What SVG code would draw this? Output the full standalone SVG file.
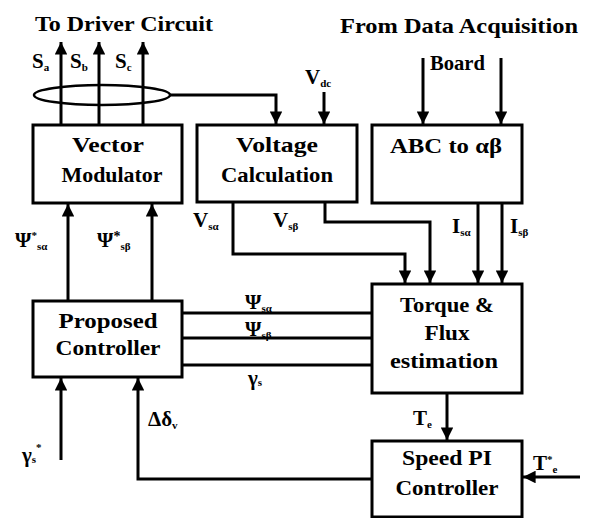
<svg xmlns="http://www.w3.org/2000/svg" width="590" height="518" viewBox="0 0 590 518">
<style>
.box{fill:#fff;stroke:#000;stroke-width:3}
.ln{fill:none;stroke:#000;stroke-width:3}
.t{font-family:'Liberation Serif','Times New Roman',serif;font-weight:bold;font-size:21px;fill:#000}
.lb{font-family:'Liberation Serif','Times New Roman',serif;font-weight:bold;font-size:21px;fill:#000}
.sub{font-size:11px}
</style>
<defs>
<marker id="ah" viewBox="0 0 10 10" refX="10" refY="5" markerWidth="4.2" markerHeight="4.2" orient="auto" markerUnits="strokeWidth">
<path d="M0,0 L10,5 L0,10 z" fill="#000"/>
</marker>
</defs>
<rect width="590" height="518" fill="#fff"/>

<g id="connectors">
<line class="ln" x1="61" y1="125" x2="61" y2="42" marker-end="url(#ah)"/>
<line class="ln" x1="99" y1="125" x2="99" y2="42" marker-end="url(#ah)"/>
<line class="ln" x1="143" y1="125" x2="143" y2="42" marker-end="url(#ah)"/>
<ellipse cx="102" cy="95" rx="68" ry="10" fill="none" stroke="#000" stroke-width="2.5"/>
<polyline class="ln" points="170,95 276,95 276,124" marker-end="url(#ah)"/>
<line class="ln" x1="324" y1="92" x2="324" y2="124" marker-end="url(#ah)"/>
<line class="ln" x1="423" y1="58" x2="423" y2="124" marker-end="url(#ah)"/>
<line class="ln" x1="501" y1="58" x2="501" y2="124" marker-end="url(#ah)"/>
<line class="ln" x1="68" y1="301" x2="68" y2="204" marker-end="url(#ah)"/>
<line class="ln" x1="152" y1="301" x2="152" y2="204" marker-end="url(#ah)"/>
<polyline class="ln" points="233,202 233,254 405,254 405,283" marker-end="url(#ah)"/>
<polyline class="ln" points="325,202 325,222 430,222 430,283" marker-end="url(#ah)"/>
<line class="ln" x1="478" y1="203" x2="478" y2="283" marker-end="url(#ah)"/>
<line class="ln" x1="502" y1="203" x2="502" y2="283" marker-end="url(#ah)"/>
<line class="ln" x1="182" y1="313" x2="372" y2="313"/>
<line class="ln" x1="182" y1="338" x2="372" y2="338"/>
<line class="ln" x1="182" y1="365" x2="372" y2="365"/>
<line class="ln" x1="447" y1="393" x2="447" y2="440" marker-end="url(#ah)"/>
<line class="ln" x1="580" y1="477" x2="523" y2="477" marker-end="url(#ah)"/>
<polyline class="ln" points="372,479 138,479 138,378" marker-end="url(#ah)"/>
<line class="ln" x1="61" y1="460" x2="61" y2="378" marker-end="url(#ah)"/>
</g>

<g id="vector-modulator">
<rect class="box" x="33" y="125" width="149" height="78"/>
<text class="t" x="108" y="152" text-anchor="middle" textLength="72" lengthAdjust="spacingAndGlyphs">Vector</text>
<text class="t" x="112" y="182" text-anchor="middle" textLength="101" lengthAdjust="spacingAndGlyphs">Modulator</text>
</g>
<g id="voltage-calculation">
<rect class="box" x="197" y="125" width="160" height="77"/>
<text class="t" x="277" y="152" text-anchor="middle" textLength="82" lengthAdjust="spacingAndGlyphs">Voltage</text>
<text class="t" x="277" y="182" text-anchor="middle" textLength="112" lengthAdjust="spacingAndGlyphs">Calculation</text>
</g>
<g id="abc-to-ab">
<rect class="box" x="372" y="125" width="150" height="78"/>
<text class="t" x="446" y="153" text-anchor="middle" textLength="112" lengthAdjust="spacingAndGlyphs">ABC to αβ</text>
</g>
<g id="torque-flux">
<rect class="box" x="372" y="284" width="150" height="109"/>
<text class="t" x="447" y="312" text-anchor="middle" textLength="94" lengthAdjust="spacingAndGlyphs">Torque &amp;</text>
<text class="t" x="447" y="340" text-anchor="middle" textLength="45" lengthAdjust="spacingAndGlyphs">Flux</text>
<text class="t" x="444" y="368" text-anchor="middle" textLength="108" lengthAdjust="spacingAndGlyphs">estimation</text>
</g>
<g id="speed-pi">
<rect class="box" x="372" y="441" width="150" height="76"/>
<text class="t" x="447" y="465" text-anchor="middle" textLength="90" lengthAdjust="spacingAndGlyphs">Speed PI</text>
<text class="t" x="447" y="495" text-anchor="middle" textLength="103" lengthAdjust="spacingAndGlyphs">Controller</text>
</g>
<g id="proposed-controller">
<rect class="box" x="33" y="301" width="149" height="76"/>
<text class="t" x="108" y="328" text-anchor="middle" textLength="99" lengthAdjust="spacingAndGlyphs">Proposed</text>
<text class="t" x="108" y="355" text-anchor="middle" textLength="105" lengthAdjust="spacingAndGlyphs">Controller</text>
</g>

<g id="labels">
<text class="lb" x="35" y="31" textLength="178" lengthAdjust="spacingAndGlyphs">To Driver Circuit</text>
<text class="lb" x="340" y="33" textLength="238" lengthAdjust="spacingAndGlyphs">From Data Acquisition</text>
<text class="lb" x="430" y="70" textLength="55" lengthAdjust="spacingAndGlyphs">Board</text>
<text class="lb" x="32" y="68" font-size="22">S<tspan class="sub" dy="3">a</tspan></text>
<text class="lb" x="70" y="68" font-size="22">S<tspan class="sub" dy="3">b</tspan></text>
<text class="lb" x="115" y="68" font-size="22">S<tspan class="sub" dy="3">c</tspan></text>
<text class="lb" x="305" y="84" font-size="19">V<tspan class="sub" dy="3">dc</tspan></text>
<text class="lb" x="15" y="247" font-size="21">Ψ<tspan class="sub" dy="-8">*</tspan><tspan class="sub" dy="11">sα</tspan></text>
<text class="lb" x="97" y="247" font-size="21">Ψ<tspan font-size="14" dy="-6">*</tspan><tspan class="sub" dy="9">sβ</tspan></text>
<text class="lb" x="193" y="227" font-size="21">V<tspan class="sub" dy="3">sα</tspan></text>
<text class="lb" x="273" y="227" font-size="21">V<tspan class="sub" dy="3">sβ</tspan></text>
<text class="lb" x="452" y="233" font-size="21">I<tspan class="sub" dy="3">sα</tspan></text>
<text class="lb" x="510" y="233" font-size="21">I<tspan class="sub" dy="3">sβ</tspan></text>
<text class="lb" x="245" y="309" font-size="20">Ψ<tspan class="sub" dy="3">sα</tspan></text>
<text class="lb" x="245" y="336" font-size="20">Ψ<tspan class="sub" dy="3">sβ</tspan></text>
<text class="lb" x="248" y="385" font-size="18">γ<tspan class="sub" dy="1">s</tspan></text>
<text class="lb" x="148" y="426" font-size="21">Δδ<tspan class="sub" dy="3">v</tspan></text>
<text class="lb" x="22" y="462" font-size="18">γ<tspan class="sub" dy="1">s</tspan><tspan class="sub" dy="-12">*</tspan></text>
<text class="lb" x="413" y="425" font-size="21">T<tspan class="sub" dy="3">e</tspan></text>
<text class="lb" x="533" y="470" font-size="21">T<tspan class="sub" dy="-7">*</tspan><tspan class="sub" dy="10">e</tspan></text>
</g>
</svg>
